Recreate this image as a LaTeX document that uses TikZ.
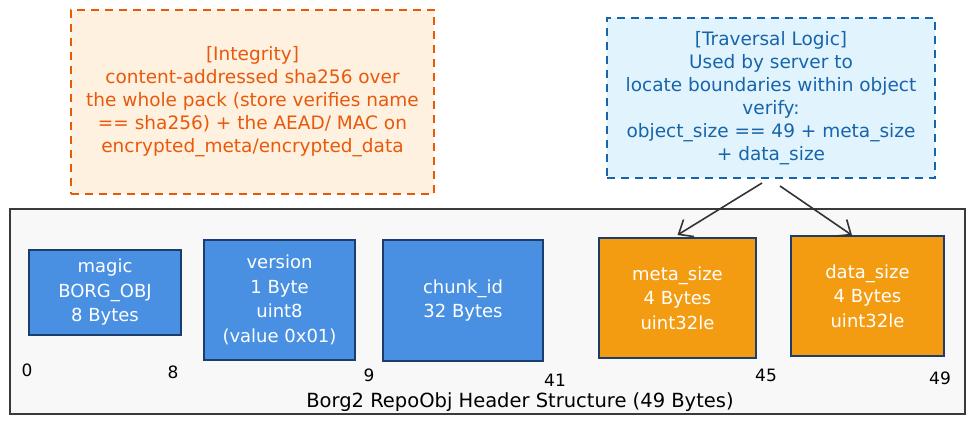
\documentclass[tikz,border=0pt]{standalone}
\usepackage{fontspec}
\setmainfont{DejaVu Sans}
\usetikzlibrary{arrows.meta}
\definecolor{orgtxt}{HTML}{E8590C}
\definecolor{orgfill}{HTML}{FFF1DF}
\definecolor{bluetxt}{HTML}{1864AB}
\definecolor{bluefill}{HTML}{E1F4FD}
\definecolor{fieldblue}{HTML}{4A90E2}
\definecolor{fieldorange}{HTML}{F39C12}
\definecolor{fieldborder}{HTML}{1C3D6E}
\definecolor{contfill}{HTML}{F8F8F8}
\definecolor{contline}{HTML}{3A3A3A}
\tikzset{
  note/.style={draw, dashed, dash pattern=on 8pt off 6pt, line width=1.6pt, align=center, inner sep=0pt,
    font=\fontsize{18.5}{23}\selectfont},
  field/.style={draw=fieldborder, line width=1.4pt, text=white, align=center, font=\fontsize{18}{24.5}\selectfont, inner sep=0pt},
  offs/.style={font=\fontsize{17}{20}\selectfont, text=black},
  conn/.style={-{Straight Barb[length=12pt,width=20pt]}, line width=1.6pt, draw=black!80}
}
\begin{document}
\begin{tikzpicture}[x=1pt,y=-1pt]
\useasboundingbox (0,0) rectangle (976,425);
% notes
\node[note, draw=orgtxt, fill=orgfill, text=orgtxt, minimum width=363pt, minimum height=184pt] (integ) at (252.5,102)
  {[Integrity]\\content-addressed sha256 over\\the whole pack (store verifies name\\== sha256) + the AEAD/ MAC on\\encrypted\_meta/encrypted\_data};
\node[note, draw=bluetxt, fill=bluefill, text=bluetxt, minimum width=328pt, minimum height=160pt] (trav) at (771,98)
  {[Traversal Logic]\\Used by server to\\locate boundaries within object\\verify:\\object\_size == 49 + meta\_size\\+ data\_size};
% container
\node[draw=contline, fill=contfill, line width=1.4pt, minimum width=955pt, minimum height=205pt, inner sep=0pt] (cont) at (487.5,311.5) {};
% fields
\node[field, fill=fieldblue, minimum width=152pt, minimum height=85pt] (magic) at (105,292.5) {magic\\BORG\_OBJ\\8 Bytes};
\node[field, fill=fieldblue, minimum width=151pt, minimum height=120pt] (version) at (279.5,300) {version\\1 Byte\\uint8\\(value 0x01)};
\node[field, fill=fieldblue, minimum width=160pt, minimum height=121pt] (chunk) at (463,300.5) {chunk\_id\\32 Bytes};
\node[field, fill=fieldorange, minimum width=157pt, minimum height=120pt] (meta) at (677.5,298) {meta\_size\\4 Bytes\\uint32le};
\node[field, fill=fieldorange, minimum width=153pt, minimum height=120pt] (data) at (867.5,296) {data\_size\\4 Bytes\\uint32le};
% offsets
\node[offs] (o0) at (27,370) {0};
\node[offs] (o8) at (173,372) {8};
\node[offs] (o9) at (369,375) {9};
\node[offs] (o41) at (555,380) {41};
\node[offs] (o45) at (766,375) {45};
\node[offs] (o49) at (940,378) {49};
\node[offs, font=\fontsize{19.5}{22}\selectfont] (title) at (520,402) {Borg2 RepoObj Header Structure (49 Bytes)};
% connectors
\coordinate (s1) at (762,183);
\coordinate (s2) at (780,186);
\draw[conn] (s1) -- (meta.north |- 0,235);
\draw[conn] (s2) -- (data.north -| 852,0);
\end{tikzpicture}
\end{document}
